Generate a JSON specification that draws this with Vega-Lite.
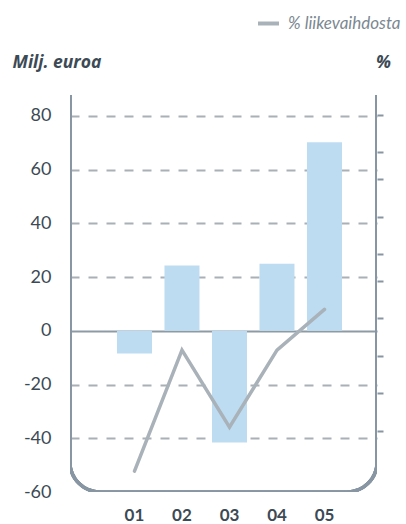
{
  "$schema": "https://vega.github.io/schema/vega-lite/v6.json",
  "width": 307,
  "height": 397,
  "autosize": "none",
  "padding": {"left": 70, "top": 95, "right": 29, "bottom": 32},
  "background": "white",
  "config": {
    "view": {"stroke": null},
    "font": "Lato",
    "axis": {"labelFont": "Lato", "titleFont": "Open Sans"},
    "legend": {"labelFont": "Lato"}
  },
  "data": {
    "values": [
      {"year": "01", "eur": -8.4, "pct": -7.37},
      {"year": "02", "eur": 24.3, "pct": -3.71},
      {"year": "03", "eur": -41.6, "pct": -6.04},
      {"year": "04", "eur": 25.0, "pct": -3.71},
      {"year": "05", "eur": 70.2, "pct": -2.48}
    ]
  },
  "encoding": {
    "x": {
      "field": "year",
      "type": "ordinal",
      "scale": {"paddingInner": 0.263, "paddingOuter": 0.863, "align": 0.573},
      "axis": {
        "title": null,
        "domain": false,
        "ticks": false,
        "labelAngle": 0,
        "labelFontSize": 17,
        "labelFontWeight": "bold",
        "labelColor": "#3c4a55",
        "labelPadding": 15
      }
    }
  },
  "layer": [
    {
      "layer": [
        {
          "mark": {
            "type": "rect",
            "fill": null,
            "stroke": "#8796a2",
            "strokeWidth": 3.2,
            "cornerRadius": 30,
            "clip": true
          },
          "encoding": {
            "x": null,
            "y": {"datum": -60, "type": "quantitative"},
            "y2": {"datum": 250}
          }
        },
        {
          "mark": {"type": "bar", "color": "#bddcf1"},
          "encoding": {
            "y": {
              "field": "eur",
              "type": "quantitative",
              "scale": {"domain": [-60, 87.8], "nice": false, "zero": false},
              "axis": {
                "title": "Milj. euroa",
                "titleAngle": 0,
                "titleAlign": "left",
                "titleBaseline": "alphabetic",
                "titleX": -58,
                "titleY": -28,
                "titleFontSize": 17.5,
                "titleFontStyle": "italic",
                "titleFontWeight": "bold",
                "titleColor": "#3c4a55",
                "values": [80, 60, 40, 20, 0, -20, -40, -60],
                "labelExpr": "'' + datum.value",
                "domain": false,
                "ticks": false,
                "labelFontSize": 18,
                "labelColor": "#3c4a55",
                "labelPadding": 19,
                "grid": true,
                "gridColor": {"condition": {"test": "datum.value === 0", "value": "#8e9ba5"}, "value": "#a9b0b6"},
                "gridDash": {"condition": {"test": "datum.value === 0", "value": []}, "value": [9, 9]},
                "gridWidth": 2,
                "gridOpacity": {"condition": {"test": "datum.value === -60", "value": 0}, "value": 1}
              }
            }
          }
        }
      ]
    },
    {
      "mark": {"type": "line", "strokeWidth": 3.5, "strokeCap": "round"},
      "encoding": {
        "y": {
          "field": "pct",
          "type": "quantitative",
          "scale": {"domain": [-8, 4], "nice": false, "zero": false},
          "axis": {
            "orient": "right",
            "title": "%",
            "titleAngle": 0,
            "titleAlign": "center",
            "titleBaseline": "alphabetic",
            "titleX": 6,
            "titleY": -28,
            "titleFontSize": 17.5,
            "titleFontStyle": "italic",
            "titleFontWeight": "bold",
            "titleColor": "#3c4a55",
            "labels": false,
            "domain": false,
            "grid": false,
            "ticks": true,
            "tickSize": 6,
            "tickWidth": 2,
            "tickColor": "#8796a2",
            "values": [3.4, 2.28, 1.46, 0.31, -0.81, -1.62, -2.74, -3.89, -5.0, -6.16]
          }
        },
        "color": {
          "datum": "% liikevaihdosta",
          "scale": {"range": ["#a9b2b9"]},
          "legend": {
            "title": null,
            "orient": "none",
            "legendX": 186,
            "legendY": -84,
            "symbolType": "stroke",
            "symbolSize": 440,
            "symbolStrokeWidth": 4,
            "labelFontSize": 17,
            "labelFontStyle": "italic",
            "labelColor": "#7b8891",
            "labelOffset": 7
          }
        }
      }
    }
  ],
  "resolve": {"scale": {"y": "independent"}}
}
